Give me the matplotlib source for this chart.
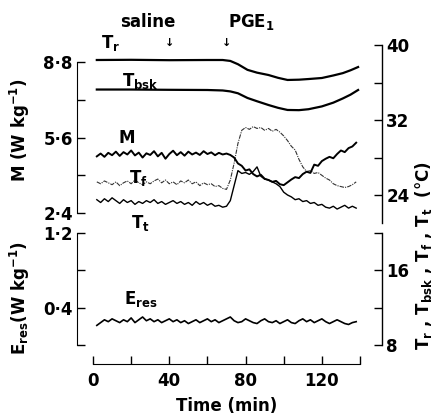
import numpy as np
import matplotlib
matplotlib.use("Agg")
import matplotlib.pyplot as plt

# sampling times (min)
t_smooth = [2, 20, 40, 60, 68, 72, 76, 81, 86, 92, 97, 102, 108, 113, 120, 126, 131, 135, 139]
t_noisy = np.arange(2, 140, 2)

# rectal and mean skin temperature (deg C)
t_rectal = [38.40, 38.42, 38.38, 38.40, 38.40, 38.30, 37.95, 37.35, 37.05, 36.80,
            36.50, 36.27, 36.30, 36.37, 36.48, 36.75, 37.00, 37.30, 37.65]
t_bsk = [35.25, 35.25, 35.22, 35.20, 35.15, 35.05, 34.85, 34.35, 34.00, 33.60,
         33.30, 33.07, 33.05, 33.15, 33.45, 33.85, 34.30, 34.70, 35.20]

# metabolic rate (W/kg)
metab = [4.80, 4.92, 4.78, 4.95, 4.85, 5.00, 4.82, 4.98, 4.88, 5.05,
         4.84, 4.96, 4.75, 4.93, 4.86, 5.02, 4.80, 4.95, 4.70, 4.90,
         5.04, 4.85, 4.98, 4.83, 5.00, 4.88, 4.96, 4.86, 5.02, 4.90,
         4.97, 4.85, 4.95, 4.88, 4.92, 4.86, 4.75, 4.50, 4.40, 4.20,
         4.25, 4.05, 3.95, 4.02, 3.85, 3.80, 3.72, 3.76, 3.62, 3.58,
         3.70, 3.82, 3.92, 3.88, 4.05, 4.15, 4.10, 4.45, 4.40, 4.60,
         4.70, 4.78, 4.72, 4.90, 5.05, 4.98, 5.15, 5.22, 5.38]

# foot and tail temperature (deg C)
t_foot = [25.4, 25.2, 25.5, 25.3, 25.1, 25.4, 25.0, 25.3, 25.5, 25.2,
          25.6, 25.3, 25.1, 25.4, 25.2, 25.5, 25.7, 25.3, 25.6, 25.2,
          25.4, 25.1, 25.5, 25.3, 25.6, 25.2, 25.4, 25.0, 25.3, 25.1,
          25.2, 24.9, 25.0, 24.7, 24.6, 25.6, 27.4, 29.5, 30.9, 31.2,
          31.0, 31.3, 31.1, 31.2, 30.9, 31.1, 30.8, 31.0, 30.7, 30.3,
          29.8, 29.2, 28.8, 27.8, 27.0, 26.5, 26.6, 26.3, 26.4, 26.1,
          25.8, 25.6, 25.2, 25.0, 24.9, 24.8, 24.9, 25.1, 25.4]
t_tail = [23.5, 23.2, 23.6, 23.3, 23.7, 23.4, 23.1, 23.5, 23.2, 23.4,
          23.0, 23.3, 23.1, 23.4, 23.2, 23.5, 23.1, 23.3, 23.0, 23.2,
          23.4, 23.1, 23.3, 23.0, 23.2, 22.9, 23.3, 23.0, 23.2, 22.9,
          23.1, 22.8, 22.9, 22.7, 22.8, 23.4, 25.0, 26.6, 26.3, 26.4,
          26.2, 26.5, 27.0, 26.0, 25.7, 25.6, 25.4, 25.2, 24.9, 24.3,
          24.0, 23.8, 23.5, 23.6, 23.3, 23.4, 23.1, 23.2, 22.9, 23.0,
          22.7, 22.6, 22.8, 22.5, 22.7, 22.9, 22.6, 22.8, 22.6]

# respiratory evaporative heat loss (W/kg)
e_res = [0.21, 0.24, 0.27, 0.25, 0.28, 0.26, 0.24, 0.27, 0.25, 0.29,
         0.24, 0.27, 0.30, 0.26, 0.28, 0.25, 0.27, 0.24, 0.26, 0.28,
         0.25, 0.27, 0.24, 0.26, 0.23, 0.25, 0.27, 0.24, 0.26, 0.28,
         0.25, 0.27, 0.24, 0.26, 0.28, 0.30, 0.26, 0.24, 0.25, 0.28,
         0.26, 0.24, 0.23, 0.26, 0.28, 0.25, 0.24, 0.26, 0.23, 0.25,
         0.27, 0.24, 0.23, 0.26, 0.28, 0.25, 0.27, 0.24, 0.26, 0.28,
         0.25, 0.23, 0.25, 0.27, 0.25, 0.23, 0.22, 0.24, 0.25]

m_ticks = [2.4, 4.0, 5.6, 7.2, 8.8]
m_labels = ["2·4", "", "5·6", "", "8·8"]
e_ticks = [0.0, 0.4, 0.8, 1.2]
e_labels = ["", "0·4", "", "1·2"]
temp_ticks = [8, 12, 16, 20, 24, 28, 32, 36, 40]
temp_labels = ["8", "", "16", "", "24", "", "32", "", "40"]
time_ticks = [0, 20, 40, 60, 80, 100, 120, 140]
time_labels = ["0", "", "40", "", "80", "", "120", ""]

FS = 12
W, H = 437, 417
PX = 72 / 100  # points per pixel at dpi 100


def frac_box(x0, x1, ytop, ybot):
    return [x0 / W, 1 - ybot / H, (x1 - x0) / W, (ybot - ytop) / H]


def bare(ax):
    ax.patch.set_visible(False)
    for s in ax.spines.values():
        s.set_visible(False)
    ax.set_xticks([])
    ax.set_yticks([])
    ax.set_xlim(0, 140)


def main() -> None:
    plt.rcParams["font.family"] = "DejaVu Sans"
    plt.rcParams["font.weight"] = "bold"
    plt.rcParams["axes.labelweight"] = "bold"
    fig = plt.figure(figsize=(W / 100, H / 100), dpi=100)

    ax_t = fig.add_axes(frac_box(93, 360, 45, 345))
    ax_t2 = fig.add_axes(frac_box(93, 360, 45, 345))
    ax_m = fig.add_axes(frac_box(93, 360, 62, 213))
    ax_e = fig.add_axes(frac_box(93, 360, 233, 345))
    for ax in (ax_t, ax_t2, ax_m, ax_e):
        bare(ax)

    # temperature axis on the right, split in two segments
    for ax in (ax_t, ax_t2):
        ax.set_ylim(8, 40)
        ax.spines["right"].set_visible(True)
        ax.spines["right"].set_position(("outward", 22 * PX))
        ax.spines["right"].set_linewidth(1.0)
    ax_t.spines["right"].set_bounds(21, 40)
    ax_t2.spines["right"].set_bounds(8, 20)
    ax_t.yaxis.tick_right()
    ax_t.set_yticks(temp_ticks)
    ax_t.set_yticklabels(temp_labels)
    ax_t.tick_params(axis="y", direction="in", length=6, width=1, pad=3, labelsize=FS)

    # metabolic rate axis
    ax_m.set_ylim(2.4, 8.8)
    ax_m.spines["left"].set_visible(True)
    ax_m.spines["left"].set_position(("outward", 16 * PX))
    ax_m.set_yticks(m_ticks)
    ax_m.set_yticklabels(m_labels)
    ax_m.tick_params(axis="y", direction="in", length=6, width=1, pad=3, labelsize=FS)

    # respiratory evaporation axis + time axis
    ax_e.set_ylim(0, 1.2)
    ax_e.spines["left"].set_visible(True)
    ax_e.spines["left"].set_position(("outward", 16 * PX))
    ax_e.set_yticks(e_ticks)
    ax_e.set_yticklabels(e_labels)
    ax_e.tick_params(axis="y", direction="in", length=6, width=1, pad=3, labelsize=FS)
    ax_e.spines["bottom"].set_visible(True)
    ax_e.spines["bottom"].set_position(("outward", 19 * PX))
    ax_e.set_xticks(time_ticks)
    ax_e.set_xticklabels(time_labels)
    ax_e.tick_params(axis="x", direction="in", length=6, width=1, pad=6, labelsize=FS)
    ax_e.set_xlabel("Time (min)", fontsize=FS, labelpad=5)

    # curves
    ax_t.plot(t_smooth, t_rectal, color="black", lw=1.6)
    ax_t.plot(t_smooth, t_bsk, color="black", lw=1.6)
    ax_t.plot(t_noisy, t_foot, color="#333333", lw=0.8, ls=(0, (4, 1, 1, 1)))
    ax_t.plot(t_noisy, t_tail, color="black", lw=1.0)
    ax_m.plot(t_noisy, metab, color="black", lw=1.4)
    ax_e.plot(t_noisy, e_res, color="black", lw=1.2)

    # curve labels and injection markers (temperature coordinates)
    txt = dict(fontsize=FS, ha="center", va="center", clip_on=False)
    ax_t.text(9, 40.2, "T$_\\mathbf{r}$", **txt)
    ax_t.text(25, 36.2, "T$_\\mathbf{bsk}$", **txt)
    ax_t.text(17.5, 30.1, "M", **txt)
    ax_t.text(24, 25.8, "T$_\\mathbf{f}$", **txt)
    ax_t.text(25, 21.0, "T$_\\mathbf{t}$", **txt)
    ax_t.text(25, 12.9, "E$_\\mathbf{res}$", **txt)
    ax_t.text(29, 42.5, "saline", **txt)
    ax_t.text(40, 40.2, "↓", fontsize=8, ha="center", va="center", clip_on=False)
    ax_t.text(83, 42.5, "PGE$_\\mathbf{1}$", **txt)
    ax_t.text(70, 40.2, "↓", fontsize=8, ha="center", va="center", clip_on=False)

    fig.text(20 / W, 1 - 130 / H, "M (W kg$^\\mathbf{-1}$)", rotation=90,
             fontsize=FS, ha="center", va="center")
    fig.text(20 / W, 1 - 298 / H, "E$_\\mathbf{res}$(W kg$^\\mathbf{-1}$)", rotation=90,
             fontsize=FS, ha="center", va="center")
    fig.text(424 / W, 1 - 256 / H,
             "T$_\\mathbf{r}$ , T$_\\mathbf{bsk}$ , T$_\\mathbf{f}$ , T$_\\mathbf{t}$  (°C)",
             rotation=90, fontsize=FS, ha="center", va="center")

    fig.savefig("out.png", dpi=100)
    plt.close(fig)


if __name__ == "__main__":
    main()
